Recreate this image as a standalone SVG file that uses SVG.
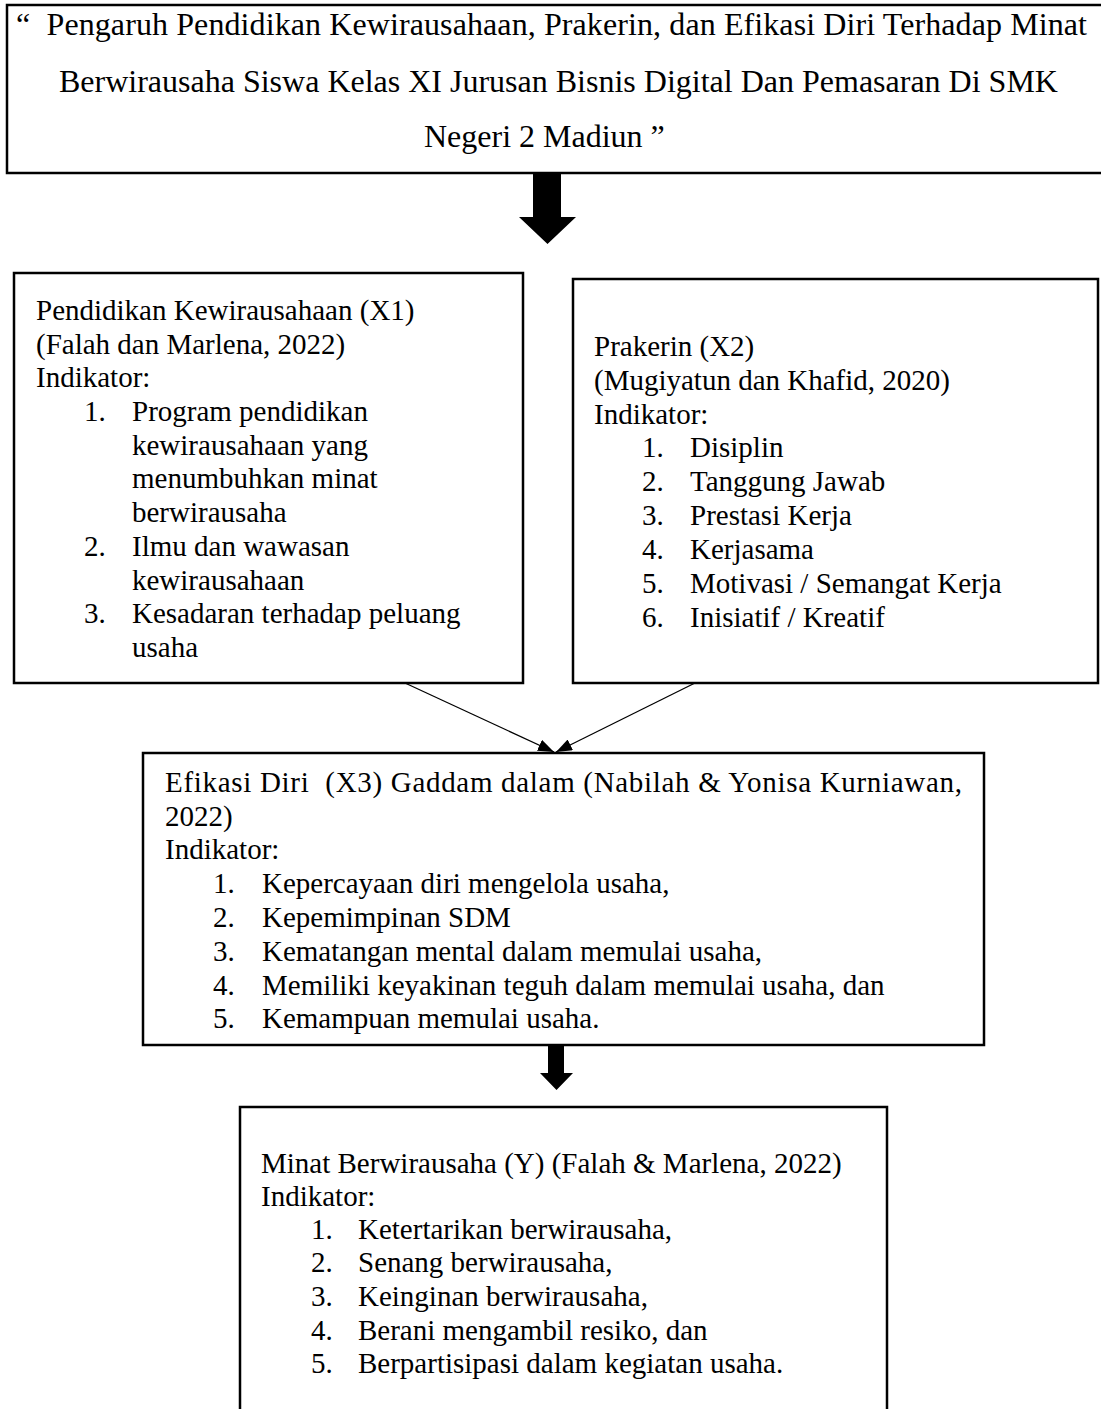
<svg xmlns="http://www.w3.org/2000/svg" width="1101" height="1409" viewBox="0 0 1101 1409">
<style>
  .box { fill: #ffffff; stroke: #000000; stroke-width: 2.5; }
  .t { font-family: "Liberation Serif", "Times New Roman", serif; font-size: 29px; fill: #000000; }
  .title { font-family: "Liberation Serif", "Times New Roman", serif; font-size: 32px; fill: #000000; }
  .conn { stroke: #000000; stroke-width: 1.3; fill: none; }
  .block { fill: #000000; stroke: none; }
</style>
<defs>
  <marker id="ah" viewBox="0 0 16 12" refX="16" refY="6" markerWidth="16" markerHeight="12" markerUnits="userSpaceOnUse" orient="auto">
    <path d="M0,0 L16,6 L0,12 z" fill="#000000"/>
  </marker>
</defs>
<rect x="0" y="0" width="1101" height="1409" fill="#ffffff"/>

<g id="title">
  <rect class="box" x="7" y="5" width="1110" height="168" stroke-width="3"/>
  <text class="title" x="16" y="35" textLength="1071" lengthAdjust="spacing" xml:space="preserve">“  Pengaruh Pendidikan Kewirausahaan, Prakerin, dan Efikasi Diri Terhadap Minat</text>
  <text class="title" x="59" y="92">Berwirausaha Siswa Kelas XI Jurusan Bisnis Digital Dan Pemasaran Di SMK</text>
  <text class="title" x="424" y="147">Negeri 2 Madiun ”</text>
</g>

<g id="x1">
  <rect class="box" x="14" y="273" width="509" height="410"/>
  <text class="t" x="36" y="320">Pendidikan Kewirausahaan (X1)</text>
  <text class="t" x="36" y="354">(Falah dan Marlena, 2022)</text>
  <text class="t" x="36" y="387">Indikator:</text>
  <text class="t" x="84" y="421">1.</text>
  <text class="t" x="132" y="421">Program pendidikan</text>
  <text class="t" x="132" y="455">kewirausahaan yang</text>
  <text class="t" x="132" y="488">menumbuhkan minat</text>
  <text class="t" x="132" y="522">berwirausaha</text>
  <text class="t" x="84" y="556">2.</text>
  <text class="t" x="132" y="556">Ilmu dan wawasan</text>
  <text class="t" x="132" y="590">kewirausahaan</text>
  <text class="t" x="84" y="623">3.</text>
  <text class="t" x="132" y="623">Kesadaran terhadap peluang</text>
  <text class="t" x="132" y="657">usaha</text>
</g>

<g id="x2">
  <rect class="box" x="573" y="279" width="525" height="404"/>
  <text class="t" x="594" y="356">Prakerin (X2)</text>
  <text class="t" x="594" y="390">(Mugiyatun dan Khafid, 2020)</text>
  <text class="t" x="594" y="424">Indikator:</text>
  <text class="t" x="642" y="457">1.</text>
  <text class="t" x="690" y="457">Disiplin</text>
  <text class="t" x="642" y="491">2.</text>
  <text class="t" x="690" y="491">Tanggung Jawab</text>
  <text class="t" x="642" y="525">3.</text>
  <text class="t" x="690" y="525">Prestasi Kerja</text>
  <text class="t" x="642" y="559">4.</text>
  <text class="t" x="690" y="559">Kerjasama</text>
  <text class="t" x="642" y="593">5.</text>
  <text class="t" x="690" y="593">Motivasi / Semangat Kerja</text>
  <text class="t" x="642" y="627">6.</text>
  <text class="t" x="690" y="627">Inisiatif / Kreatif</text>
</g>

<g id="x3">
  <rect class="box" x="143" y="753" width="841" height="292"/>
  <text class="t" x="165" y="792" textLength="797" lengthAdjust="spacing" xml:space="preserve">Efikasi Diri  (X3) Gaddam dalam (Nabilah &amp; Yonisa Kurniawan,</text>
  <text class="t" x="165" y="826">2022)</text>
  <text class="t" x="165" y="859">Indikator:</text>
  <text class="t" x="213" y="893">1.</text>
  <text class="t" x="262" y="893">Kepercayaan diri mengelola usaha,</text>
  <text class="t" x="213" y="927">2.</text>
  <text class="t" x="262" y="927">Kepemimpinan SDM</text>
  <text class="t" x="213" y="961">3.</text>
  <text class="t" x="262" y="961">Kematangan mental dalam memulai usaha,</text>
  <text class="t" x="213" y="995">4.</text>
  <text class="t" x="262" y="995">Memiliki keyakinan teguh dalam memulai usaha, dan</text>
  <text class="t" x="213" y="1028">5.</text>
  <text class="t" x="262" y="1028">Kemampuan memulai usaha.</text>
</g>

<g id="y">
  <rect class="box" x="240" y="1107" width="647" height="330"/>
  <text class="t" x="261" y="1173">Minat Berwirausaha (Y) (Falah &amp; Marlena, 2022)</text>
  <text class="t" x="261" y="1206">Indikator:</text>
  <text class="t" x="311" y="1239">1.</text>
  <text class="t" x="358" y="1239">Ketertarikan berwirausaha,</text>
  <text class="t" x="311" y="1272">2.</text>
  <text class="t" x="358" y="1272">Senang berwirausaha,</text>
  <text class="t" x="311" y="1306">3.</text>
  <text class="t" x="358" y="1306">Keinginan berwirausaha,</text>
  <text class="t" x="311" y="1340">4.</text>
  <text class="t" x="358" y="1340">Berani mengambil resiko, dan</text>
  <text class="t" x="311" y="1373">5.</text>
  <text class="t" x="358" y="1373">Berpartisipasi dalam kegiatan usaha.</text>
</g>

<g id="connectors">
  <polygon class="block" points="533,173 561,173 561,217 576,217 547.5,244 519,217 533,217"/>
  <line class="conn" x1="405" y1="683" x2="554" y2="752" marker-end="url(#ah)"/>
  <line class="conn" x1="695" y1="683" x2="556" y2="752" marker-end="url(#ah)"/>
  <polygon class="block" points="548,1045 564,1045 564,1073 573,1073 556.5,1090 540,1073 548,1073"/>
</g>
</svg>
